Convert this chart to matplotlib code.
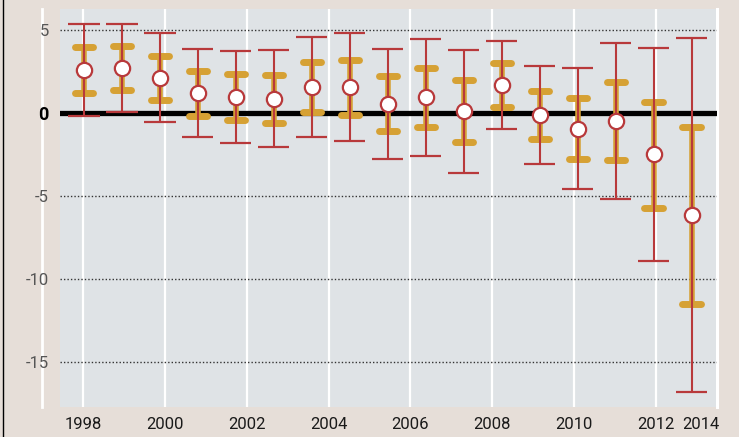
import numpy as np
import matplotlib
matplotlib.use("Agg")
import matplotlib.pyplot as plt
from matplotlib.lines import Line2D

# valeurs
years = np.arange(1998, 2015)
point = [2.59, 2.69, 2.13, 1.20, 0.96, 0.86, 1.55, 1.55, 0.56, 0.94, 0.12, 1.69,
         -0.12, -0.94, -0.48, -2.49, -6.16]
inner_hi = [3.96, 4.02, 3.45, 2.55, 2.35, 2.31, 3.05, 3.17, 2.21, 2.69, 1.97, 3.01,
            1.34, 0.88, 1.89, 0.68, -0.83]
inner_lo = [1.22, 1.39, 0.78, -0.16, -0.42, -0.60, 0.04, -0.10, -1.10, -0.84, -1.75, 0.34,
            -1.59, -2.77, -2.85, -5.70, -11.49]
outer_hi = [5.34, 5.34, 4.80, 3.87, 3.73, 3.77, 4.56, 4.80, 3.87, 4.48, 3.81, 4.36,
            2.81, 2.71, 4.24, 3.90, 4.50]
outer_lo = [-0.16, 0.04, -0.56, -1.47, -1.83, -2.05, -1.45, -1.71, -2.77, -2.61, -3.60, -0.98,
            -3.07, -4.60, -5.18, -8.92, -16.80]

tick_pos = [1998, 2000, 2002, 2004, 2006, 2008, 2010, 2012, 2013.1]
tick_lab = ['1998', '2000', '2002', '2004', '2006', '2008', '2010', '2012', '2014']
grid_years = [1998, 2000, 2002, 2004, 2006, 2008, 2010, 2012]
y_ticks = [5, 0, -5, -10, -15]

beige = '#e6ded8'
panel = '#dfe3e6'
orange = '#d6a134'
red = '#b8393b'
fonts = ['Roboto', 'DejaVu Sans']

fig = plt.figure(figsize=(7.39, 4.37), dpi=100, facecolor=beige)
rect = [60 / 739, 1 - 407 / 437, (717 - 60) / 739, (407 - 9) / 437]

# axe du fond : couleur, grille et etiquettes
axb = fig.add_axes(rect)
axb.set_facecolor(panel)
axb.set_xlim(1997.438, 2013.49)
axb.set_ylim(-17.71, 6.27)
for s in axb.spines.values():
    s.set_visible(False)
for g in grid_years:
    axb.axvline(g, color='white', lw=1.6, zorder=1)
axb.axvline(2013.49, color='white', lw=2.2, zorder=1, clip_on=False)
for v in y_ticks:
    if v != 0:
        axb.axhline(v, color='#333333', lw=1, ls=(0, (1, 1.5)), zorder=2)
axb.axhline(0, color='black', lw=3.8, zorder=3)
axb.set_xticks(tick_pos)
axb.set_xticklabels(tick_lab, family=fonts, fontsize=12, color='#1a1a1a')
axb.set_yticks(y_ticks)
axb.set_yticklabels([str(v) for v in y_ticks], family=fonts, fontsize=12, color='#555555')
lab0 = axb.get_yticklabels()[1]
lab0.set_fontweight('bold')
lab0.set_color('black')
lab0.set_fontsize(13)
axb.tick_params(axis='both', length=0)
axb.tick_params(axis='x', pad=7)
axb.tick_params(axis='y', pad=8)

# axe des points, transparent, au-dessus
ax = fig.add_axes(rect, sharey=axb)
ax.patch.set_visible(False)
ax.set_xlim(1997.368, 2014.67)
for s in ax.spines.values():
    s.set_visible(False)
ax.set_xticks([])
ax.tick_params(axis='y', left=False, labelleft=False)

ax.vlines(years, inner_lo, inner_hi, color=orange, lw=4, zorder=2)
ax.hlines(inner_hi, years - 0.24, years + 0.24, color=orange, lw=5,
          capstyle='round', zorder=2)
ax.hlines(inner_lo, years - 0.24, years + 0.24, color=orange, lw=5,
          capstyle='round', zorder=2)
ax.vlines(years, outer_lo, outer_hi, color=red, lw=1.5, zorder=3)
ax.hlines(outer_hi, years - 0.41, years + 0.41, color=red, lw=1.6, zorder=3)
ax.hlines(outer_lo, years - 0.41, years + 0.41, color=red, lw=1.6, zorder=3)
ax.plot(years, point, 'o', ms=11, mfc='white', mec=red, mew=1.6, zorder=4)

# traits hors du cadre
fig.add_artist(Line2D([41.5 / 739, 41.5 / 739], [1 - 407 / 437, 1 - 9 / 437],
                      color='white', lw=2, zorder=0))
fig.add_artist(Line2D([3 / 739, 3 / 739], [0, 1], color='black', lw=1))

fig.savefig('out.png', dpi=100, facecolor=beige)
